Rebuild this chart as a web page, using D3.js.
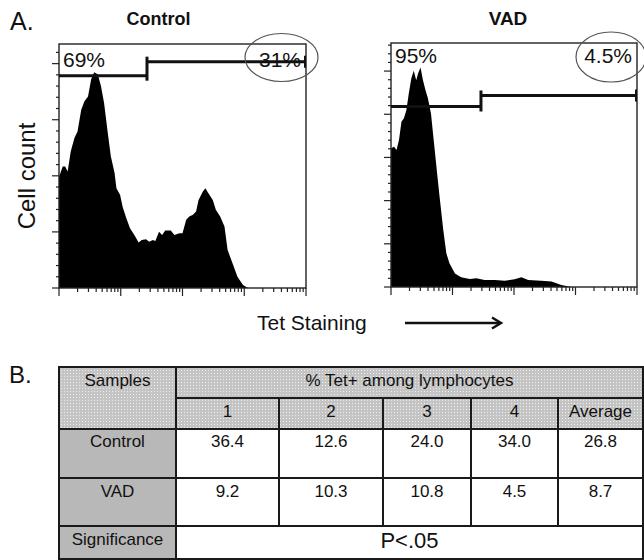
<!DOCTYPE html>
<html>
<head>
<meta charset="utf-8">
<script src="https://cdn.jsdelivr.net/npm/d3@7"></script>
<style>
  body { margin: 0; background: #fff; }
  svg { display: block; font-family: "Liberation Sans", Arial, sans-serif; }
</style>
</head>
<body>
<svg id="fig" width="644" height="560"></svg>
<script>
// Histogram outlines, x in log10 decades of Tet fluorescence, y in cell counts
const controlDecade = [0, 0.06, 0.10, 0.14, 0.19, 0.25, 0.30, 0.36, 0.41, 0.47, 0.52, 0.57, 0.63, 0.68, 0.73,
  0.79, 0.84, 0.90, 0.93, 0.99, 1.03, 1.09, 1.15, 1.22, 1.29, 1.34, 1.41, 1.46, 1.52, 1.56, 1.62, 1.67,
  1.72, 1.81, 1.87, 1.95, 2.00, 2.06, 2.11, 2.17, 2.22, 2.26, 2.33, 2.37, 2.42, 2.49, 2.54, 2.61, 2.68,
  2.73, 2.81, 2.89, 2.98, 3.06, 4];
const controlCount = [39.6, 43.3, 43.3, 41.5, 48.7, 53.5, 55.8, 63.6, 66.5, 68.3, 74.3, 76.9, 76.1, 71.9, 66.0,
  55.3, 46.9, 41.0, 35.6, 33.2, 29.0, 24.9, 21.3, 18.9, 16.2, 17.1, 17.4, 16.5, 17.1, 16.8, 20.1, 18.9,
  20.5, 20.5, 18.9, 19.5, 19.5, 24.3, 25.5, 26.1, 27.3, 31.4, 34.4, 35.6, 33.8, 31.4, 27.9, 25.5, 21.9,
  13.6, 8.8, 4.0, 1.1, 0, 0];

const vadDecade = [0, 0.05, 0.09, 0.13, 0.17, 0.21, 0.25, 0.29, 0.33, 0.37, 0.41, 0.44, 0.48, 0.52, 0.56,
  0.60, 0.65, 0.70, 0.75, 0.79, 0.85, 0.90, 0.95, 1.04, 1.14, 1.28, 1.39, 1.52, 1.69, 1.85, 2.01, 2.12,
  2.23, 2.44, 2.61, 2.77, 2.93, 4];
const vadCount = [64.2, 65.0, 63.4, 68.1, 76.5, 78.1, 81.9, 89.7, 96.6, 100.1, 95.8, 98.9, 101.7, 95.8, 91.2,
  87.4, 80.4, 66.5, 52.6, 41.8, 26.4, 15.6, 11.0, 6.3, 4.5, 3.7, 4.0, 3.2, 3.2, 2.9, 3.6, 4.5,
  3.2, 2.9, 2.5, 0.9, 0, 0];

// Gates: cut point (decades), level of the negative and positive bars (counts), labels
const panelTitles = ['Control', 'VAD'];
const gateCut = [1.425, 1.463];
const gateLevelNeg = [75.7, 83.6];
const gateLevelPos = [80.7, 88.7];
const gateLabels = [['69%', '31%'], ['95%', '4.5%']];

// Table
const sampleIds = ['1', '2', '3', '4', 'Average'];
const controlValues = ['36.4', '12.6', '24.0', '34.0', '26.8'];
const vadValues = ['9.2', '10.3', '10.8', '4.5', '8.7'];
const significance = 'P<.05';

const svg = d3.select('#fig');
const ink = '#111';

// header texture
const defs = svg.append('defs');
const pat = defs.append('pattern')
  .attr('id', 'dots')
  .attr('width', 3).attr('height', 3)
  .attr('patternUnits', 'userSpaceOnUse');
pat.append('rect').attr('width', 3).attr('height', 3).attr('fill', '#c4c4c4');
pat.append('rect').attr('x', 1).attr('y', 1).attr('width', 1).attr('height', 1).attr('fill', '#ececec');

svg.append('text')
  .attr('x', 10).attr('y', 30)
  .attr('font-size', 25).attr('fill', ink)
  .text('A.');

const panels = [
  { box: [59, 306, 44, 288], yMax: 87, decade: controlDecade, count: controlCount,
    ellipse: [281.5, 57.5, 36.5, 24], labelY: 67 },
  { box: [391, 637, 43, 287], yMax: 113, decade: vadDecade, count: vadCount,
    ellipse: [611, 57, 35, 25], labelY: 63 }
];

panels.forEach((p, i) => {
  const [x0, x1, y0, y1] = p.box;
  const x = d3.scaleLog().domain([1, 1e4]).range([x0, x1]);
  const y = d3.scaleLinear().domain([0, p.yMax]).range([y1, y0]);
  const g = svg.append('g');

  // title
  g.append('text')
    .attr('x', (x0 + x1) / 2 + (i === 0 ? -24 : -6)).attr('y', 25)
    .attr('text-anchor', 'middle')
    .attr('font-size', i === 0 ? 18 : 19).attr('font-weight', 700)
    .attr('fill', ink)
    .text(panelTitles[i]);

  // histogram
  const pts = p.decade.map((d, k) => [Math.pow(10, d), p.count[k]]);
  g.append('path')
    .datum(pts)
    .attr('fill', '#000')
    .attr('d', d3.area()
      .x(d => x(d[0]))
      .y0(y(0))
      .y1(d => y(d[1])));

  // frame
  g.append('rect')
    .attr('x', x0).attr('y', y0)
    .attr('width', x1 - x0).attr('height', y1 - y0)
    .attr('fill', 'none')
    .attr('stroke', '#222').attr('stroke-width', 1.4);

  // y ticks
  const yMinor = d3.range(0, p.yMax, 4);
  g.selectAll('line.ytick')
    .data(yMinor)
    .join('line')
    .attr('class', 'ytick')
    .attr('x1', x0)
    .attr('x2', d => d % 20 === 0 ? x0 - 7 : x0 - 3)
    .attr('y1', d => y(d)).attr('y2', d => y(d))
    .attr('stroke', '#222').attr('stroke-width', 1.2);

  // x ticks (log)
  g.selectAll('line.xtick')
    .data(x.ticks())
    .join('line')
    .attr('class', 'xtick')
    .attr('x1', d => x(d)).attr('x2', d => x(d))
    .attr('y1', y1)
    .attr('y2', d => Math.log10(d) % 1 === 0 ? y1 + 8 : y1 + 4)
    .attr('stroke', '#222').attr('stroke-width', 1.2);

  // gate bars
  const cut = x(Math.pow(10, gateCut[i]));
  const yn = y(gateLevelNeg[i]);
  const yp = y(gateLevelPos[i]);
  const gate = g.append('g').attr('stroke', '#111').attr('stroke-width', 3).attr('fill', 'none');
  gate.append('line').attr('x1', x0).attr('x2', cut).attr('y1', yn).attr('y2', yn);
  gate.append('line').attr('x1', cut).attr('x2', x1).attr('y1', yp).attr('y2', yp);
  gate.append('line').attr('x1', cut).attr('x2', cut).attr('y1', yp - 5).attr('y2', yn + 5);
  gate.append('line').attr('x1', x1 - 1).attr('x2', x1 - 1).attr('y1', yp - 6).attr('y2', yp + 6)
    .attr('stroke-width', 2);

  // percentages
  g.append('text')
    .attr('x', x0 + 4).attr('y', p.labelY)
    .attr('font-size', 21).attr('fill', ink)
    .text(gateLabels[i][0]);
  g.append('text')
    .attr('x', x1 - 5).attr('y', p.labelY)
    .attr('text-anchor', 'end')
    .attr('font-size', 21).attr('fill', ink)
    .text(gateLabels[i][1]);

  const [ex, ey, rx, ry] = p.ellipse;
  g.append('ellipse')
    .attr('cx', ex).attr('cy', ey).attr('rx', rx).attr('ry', ry)
    .attr('fill', 'none').attr('stroke', '#555').attr('stroke-width', 1.2);
});

// axis titles
svg.append('text')
  .attr('transform', 'translate(35,176) rotate(-90)')
  .attr('text-anchor', 'middle')
  .attr('font-size', 24).attr('fill', ink)
  .text('Cell count');

svg.append('text')
  .attr('x', 257).attr('y', 330)
  .attr('font-size', 21).attr('fill', ink)
  .text('Tet Staining');

svg.append('line')
  .attr('x1', 405).attr('x2', 500).attr('y1', 323).attr('y2', 323)
  .attr('stroke', ink).attr('stroke-width', 2.5);
svg.append('path')
  .attr('d', 'M492,317.5 L501,323 L492,328.5')
  .attr('fill', 'none').attr('stroke', ink).attr('stroke-width', 2.5);

// ---- Table B ----
svg.append('text')
  .attr('x', 9).attr('y', 383)
  .attr('font-size', 24).attr('fill', ink)
  .text('B.');

const colEdges = [59, 176, 279, 383, 471, 558, 643];
const rowEdges = [367, 398, 429, 478, 526, 559];
const tbl = svg.append('g').attr('font-size', 17).attr('fill', ink);

const cells = [];
cells.push({ c0: 0, c1: 1, r0: 0, r1: 2, fill: 'url(#dots)', text: 'Samples', ty: 386 });
cells.push({ c0: 1, c1: 6, r0: 0, r1: 1, fill: 'url(#dots)', text: '% Tet+ among lymphocytes', ty: 386 });
sampleIds.forEach((s, k) => cells.push({ c0: k + 1, c1: k + 2, r0: 1, r1: 2, fill: 'url(#dots)', text: s, ty: 417 }));
cells.push({ c0: 0, c1: 1, r0: 2, r1: 3, fill: '#b8b8b8', text: 'Control', ty: 447 });
controlValues.forEach((v, k) => cells.push({ c0: k + 1, c1: k + 2, r0: 2, r1: 3, fill: '#fff', text: v, ty: 447 }));
cells.push({ c0: 0, c1: 1, r0: 3, r1: 4, fill: '#b8b8b8', text: 'VAD', ty: 497 });
vadValues.forEach((v, k) => cells.push({ c0: k + 1, c1: k + 2, r0: 3, r1: 4, fill: '#fff', text: v, ty: 497 }));
cells.push({ c0: 0, c1: 1, r0: 4, r1: 5, fill: '#b8b8b8', text: 'Significance', ty: 545 });
cells.push({ c0: 1, c1: 6, r0: 4, r1: 5, fill: '#fff', text: significance, ty: 548, size: 22 });

const cg = tbl.selectAll('g.cell')
  .data(cells)
  .join('g')
  .attr('class', 'cell');
cg.append('rect')
  .attr('x', d => colEdges[d.c0])
  .attr('y', d => rowEdges[d.r0])
  .attr('width', d => colEdges[d.c1] - colEdges[d.c0])
  .attr('height', d => rowEdges[d.r1] - rowEdges[d.r0])
  .attr('fill', d => d.fill);
cg.append('text')
  .attr('x', d => (colEdges[d.c0] + colEdges[d.c1]) / 2)
  .attr('y', d => d.ty)
  .attr('text-anchor', 'middle')
  .attr('font-size', d => d.size || 17)
  .text(d => d.text);
cg.append('rect')
  .attr('x', d => colEdges[d.c0])
  .attr('y', d => rowEdges[d.r0])
  .attr('width', d => colEdges[d.c1] - colEdges[d.c0])
  .attr('height', d => rowEdges[d.r1] - rowEdges[d.r0])
  .attr('fill', 'none')
  .attr('stroke', '#1a1a1a').attr('stroke-width', 2);
</script>
</body>
</html>
